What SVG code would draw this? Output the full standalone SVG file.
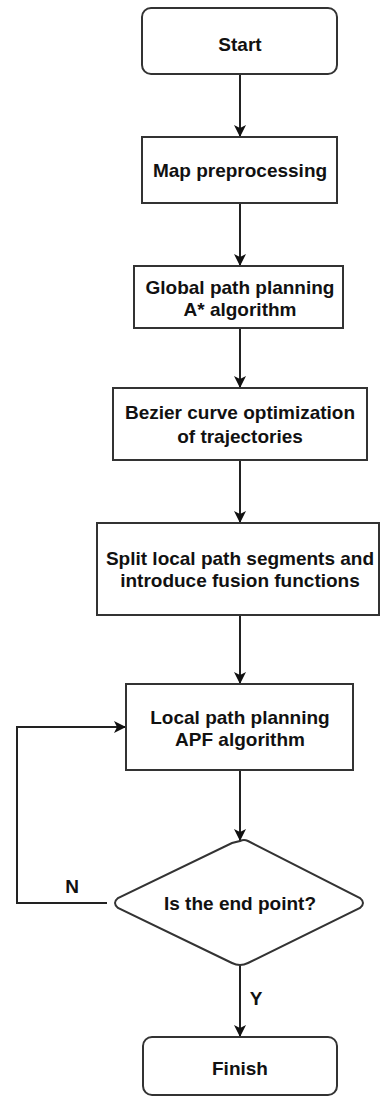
<svg xmlns="http://www.w3.org/2000/svg" width="381" height="1097" viewBox="0 0 381 1097">
<defs>
<style>
.box{fill:#fff;stroke:#333;stroke-width:2}
.t{font-family:"Liberation Sans",Arial,sans-serif;font-weight:bold;font-size:19px;fill:#111;text-anchor:middle}
.c{fill:none;stroke:#222;stroke-width:2}
</style>
<marker id="ah" viewBox="0 0 10 10" refX="10" refY="5" markerWidth="6" markerHeight="6" orient="auto" markerUnits="strokeWidth">
<path d="M0,0 L10,5 L0,10 L2.5,5 z" fill="#111"/>
</marker>
</defs>
<rect width="381" height="1097" fill="#fff"/>
<g id="connectors">
<line class="c" x1="240" y1="74" x2="240" y2="137" marker-end="url(#ah)"/>
<line class="c" x1="240" y1="203" x2="240" y2="266" marker-end="url(#ah)"/>
<line class="c" x1="240" y1="328" x2="240" y2="388" marker-end="url(#ah)"/>
<line class="c" x1="240" y1="460" x2="240" y2="523" marker-end="url(#ah)"/>
<line class="c" x1="240" y1="615" x2="240" y2="684" marker-end="url(#ah)"/>
<line class="c" x1="240" y1="770" x2="240" y2="841" marker-end="url(#ah)"/>
<line class="c" x1="240" y1="965" x2="240" y2="1037" marker-end="url(#ah)"/>
<polyline class="c" points="107,903 17,903 17,727 126,727" marker-end="url(#ah)"/>
<text class="t" x="72" y="893">N</text>
<text class="t" x="256" y="1005">Y</text>
</g>
<g id="start">
<rect class="box" x="142" y="8" width="195" height="66" rx="9"/>
<text class="t" x="240" y="51">Start</text>
</g>
<g id="map">
<rect class="box" x="142" y="137" width="195" height="66"/>
<text class="t" x="240" y="177">Map preprocessing</text>
</g>
<g id="global">
<rect class="box" x="134" y="266" width="209" height="62"/>
<text class="t" x="240" y="294">Global path planning</text>
<text class="t" x="240" y="316">A* algorithm</text>
</g>
<g id="bezier">
<rect class="box" x="113" y="388" width="254" height="72"/>
<text class="t" x="240" y="419">Bezier curve optimization</text>
<text class="t" x="240" y="443">of trajectories</text>
</g>
<g id="split">
<rect class="box" x="97" y="523" width="282" height="92"/>
<text class="t" x="240" y="565">Split local path segments and</text>
<text class="t" x="240" y="587">introduce fusion functions</text>
</g>
<g id="local">
<rect class="box" x="126" y="684" width="227" height="86"/>
<text class="t" x="240" y="724">Local path planning</text>
<text class="t" x="240" y="746">APF algorithm</text>
</g>
<g id="decision">
<path class="box" d="M240,841 Q244,839 248,841 L360,898 Q366,903 360,908 L248,963 Q240,967 232,963 L118,908 Q112,903 118,898 L232,843 Z"/>
<text class="t" x="240" y="910">Is the end point?</text>
</g>
<g id="finish">
<rect class="box" x="143" y="1037" width="194" height="58" rx="9"/>
<text class="t" x="240" y="1075">Finish</text>
</g>
</svg>
